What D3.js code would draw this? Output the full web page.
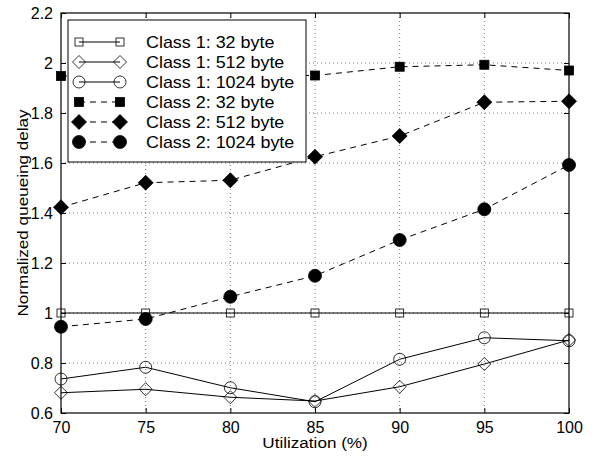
<!DOCTYPE html>
<html>
<head>
<meta charset="utf-8">
<script src="https://cdn.jsdelivr.net/npm/d3@7"></script>
<style>
body { margin: 0; background: #fff; }
text { font-family: "Liberation Sans", Arial, sans-serif; fill: #000; }
</style>
</head>
<body>
<div id="chart"></div>
<script>
// data
var util = [70, 75, 80, 85, 90, 95, 100];
var c1_32 = [1, 1, 1, 1, 1, 1, 1];
var c1_512 = [0.681, 0.695, 0.663, 0.648, 0.705, 0.796, 0.892];
var c1_1024 = [0.736, 0.783, 0.701, 0.645, 0.815, 0.901, 0.889];
var c2_32 = [1.948, 1.95, 1.95, 1.95, 1.985, 1.993, 1.97];
var c2_512 = [1.423, 1.521, 1.531, 1.625, 1.708, 1.843, 1.847];
var c2_1024 = [0.945, 0.976, 1.065, 1.149, 1.292, 1.415, 1.592];
var xTicks = [70, 75, 80, 85, 90, 95, 100];
var yTicks = [0.6, 0.8, 1, 1.2, 1.4, 1.6, 1.8, 2, 2.2];

var series = [
    { name: "Class 1: 32 byte", values: c1_32, shape: "square", filled: false, dash: null },
    { name: "Class 1: 512 byte", values: c1_512, shape: "diamond", filled: false, dash: null },
    { name: "Class 1: 1024 byte", values: c1_1024, shape: "circle", filled: false, dash: null },
    { name: "Class 2: 32 byte", values: c2_32, shape: "square", filled: true, dash: "6,5" },
    { name: "Class 2: 512 byte", values: c2_512, shape: "diamond", filled: true, dash: "6,5" },
    { name: "Class 2: 1024 byte", values: c2_1024, shape: "circle", filled: true, dash: "6,5" }
];

var width = 597, height = 456;
var pLeft = 61, pRight = 569, pTop = 13, pBottom = 413;

var svg = d3.select("#chart").append("svg")
    .attr("width", width)
    .attr("height", height);

var x = d3.scaleLinear().domain([70, 100]).range([pLeft, pRight]);
var y = d3.scaleLinear().domain([0.6, 2.2]).range([pBottom, pTop]);

// dotted grid
var grid = svg.append("g");
grid.selectAll("line.gx")
    .data(xTicks.slice(1, -1))
    .enter().append("line")
    .attr("x1", d => x(d)).attr("x2", d => x(d))
    .attr("y1", pTop).attr("y2", pBottom)
    .attr("stroke", "#777").attr("stroke-width", 1)
    .attr("stroke-dasharray", "1,3");
grid.selectAll("line.gy")
    .data(yTicks.slice(1, -1))
    .enter().append("line")
    .attr("y1", d => y(d)).attr("y2", d => y(d))
    .attr("x1", pLeft).attr("x2", pRight)
    .attr("stroke", "#777").attr("stroke-width", 1)
    .attr("stroke-dasharray", "1,3");

// axes with inward ticks on all four sides
function styleAxis(g) {
    g.select(".domain").remove();
    g.selectAll(".tick line").attr("stroke", "#000");
    g.selectAll(".tick text").style("font-size", "16px").style("font-family", "Liberation Sans, Arial, sans-serif");
}
svg.append("g").attr("transform", "translate(0," + pBottom + ")")
    .call(d3.axisBottom(x).tickValues(xTicks).tickSizeInner(-5).tickPadding(9).tickFormat(d3.format("d")))
    .call(styleAxis);
svg.append("g").attr("transform", "translate(0," + pTop + ")")
    .call(d3.axisTop(x).tickValues(xTicks).tickSizeInner(-5).tickFormat(""))
    .call(styleAxis);
svg.append("g").attr("transform", "translate(" + pLeft + ",0)")
    .call(d3.axisLeft(y).tickValues(yTicks).tickSizeInner(-5).tickPadding(8).tickFormat(d => String(+d.toFixed(1))))
    .call(styleAxis);
svg.append("g").attr("transform", "translate(" + pRight + ",0)")
    .call(d3.axisRight(y).tickValues(yTicks).tickSizeInner(-5).tickFormat(""))
    .call(styleAxis);

// markers
function marker(g, shape, filled, cx, cy) {
    var fill = filled ? "#000" : "none";
    if (shape === "square") {
        var s = filled ? 9 : 8;
        g.append("rect").attr("x", cx - s / 2).attr("y", cy - s / 2)
            .attr("width", s).attr("height", s)
            .attr("fill", fill).attr("stroke", "#000").attr("stroke-width", 0.8);
    } else if (shape === "diamond") {
        var r = filled ? 7.5 : 6.5;
        g.append("path")
            .attr("d", "M" + cx + "," + (cy - r) + "L" + (cx + r) + "," + cy + "L" + cx + "," + (cy + r) + "L" + (cx - r) + "," + cy + "Z")
            .attr("fill", fill).attr("stroke", "#000").attr("stroke-width", 0.8);
    } else {
        g.append("circle").attr("cx", cx).attr("cy", cy).attr("r", filled ? 6.5 : 6)
            .attr("fill", fill).attr("stroke", "#000").attr("stroke-width", 0.8);
    }
}

var line = d3.line().x((d, i) => x(util[i])).y(d => y(d));
var plot = svg.append("g");
series.forEach(function (s) {
    plot.append("path")
        .attr("d", line(s.values))
        .attr("fill", "none")
        .attr("stroke", "#000")
        .attr("stroke-width", 1)
        .attr("stroke-dasharray", s.dash);
    s.values.forEach(function (v, i) {
        marker(plot, s.shape, s.filled, x(util[i]), y(v));
    });
});

// frame
svg.append("rect")
    .attr("x", pLeft).attr("y", pTop)
    .attr("width", pRight - pLeft).attr("height", pBottom - pTop)
    .attr("fill", "none").attr("stroke", "#000").attr("stroke-width", 1.2);

// legend
var lg = svg.append("g");
lg.append("rect")
    .attr("x", 68).attr("y", 20).attr("width", 238).attr("height", 142)
    .attr("fill", "#fff").attr("stroke", "#000").attr("stroke-width", 1);
series.forEach(function (s, i) {
    var ly = 42 + i * 20;
    lg.append("line")
        .attr("x1", 79).attr("x2", 120).attr("y1", ly).attr("y2", ly)
        .attr("stroke", "#000").attr("stroke-width", 1)
        .attr("stroke-dasharray", s.dash);
    marker(lg, s.shape, s.filled, 79, ly);
    marker(lg, s.shape, s.filled, 120, ly);
    lg.append("text")
        .attr("transform", "translate(146," + (ly + 6) + ") scale(1.12,1)")
        .style("font-size", "16px")
        .text(s.name);
});

// axis titles
svg.append("text")
    .attr("transform", "translate(" + ((pLeft + pRight) / 2) + ",448) scale(1.14,1)")
    .attr("text-anchor", "middle")
    .style("font-size", "15px")
    .text("Utilization (%)");
svg.append("text")
    .attr("transform", "translate(28," + ((pTop + pBottom) / 2) + ") rotate(-90) scale(1.14,1)")
    .attr("text-anchor", "middle")
    .style("font-size", "15px")
    .text("Normalized queueing delay");
</script>
</body>
</html>
